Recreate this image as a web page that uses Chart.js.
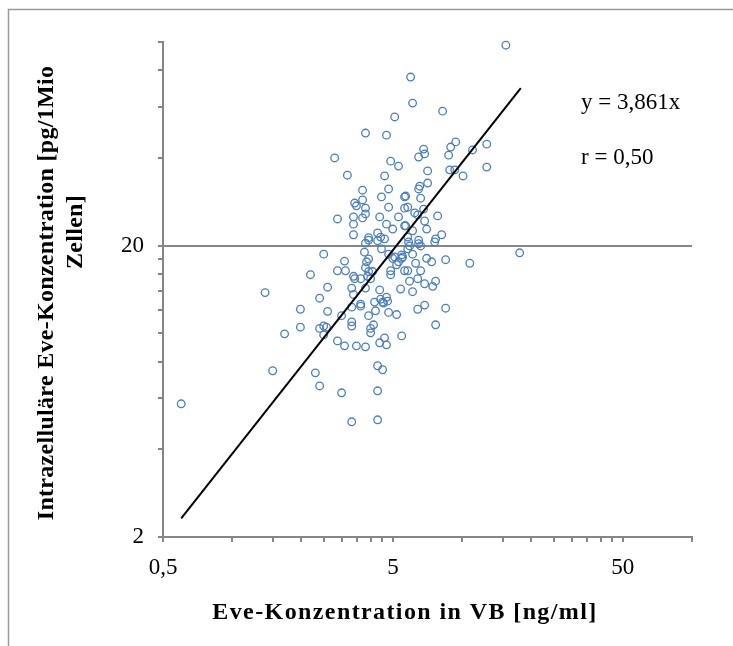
<!DOCTYPE html>
<html>
<head>
<meta charset="utf-8">
<script src="https://cdn.jsdelivr.net/npm/chart.js@4.4.1/dist/chart.umd.min.js"></script>
<style>
    html, body { margin: 0; padding: 0; background: #fff; }
    canvas { display: block; }
</style>
</head>
<body>
<canvas id="scatterChart" width="733" height="646"></canvas>
<script>
// Eve-Konzentration im Vollblut [ng/ml] (x) und intrazellulär [pg/1Mio Zellen] (y)
var eveBlood = [
    1.39, 1.69, 1.98, 1.98, 1.50, 0.60, 5.09, 3.80, 4.69, 2.79,
    4.89, 5.29, 3.17, 4.60, 3.69, 4.79, 4.46, 3.69, 3.41, 3.47,
    3.80, 4.79, 5.62, 2.87, 3.37, 3.80, 3.69, 4.38, 5.29, 4.69,
    4.99, 3.37, 5.62, 4.29, 3.92, 4.42, 4.60, 15.5, 5.97, 6.09,
    8.23, 6.80, 6.47, 6.87, 8.92, 9.38, 8.74, 11.1, 12.8, 7.08,
    8.83, 9.29, 10.1, 12.8, 6.47, 6.54, 7.08, 6.60, 5.68, 5.62,
    5.80, 6.80, 6.22, 6.41, 7.83, 5.68, 6.87, 7.01, 6.09, 8.15,
    7.67, 5.80, 6.47, 2.50, 3.08, 2.87, 3.11, 2.19, 2.60, 2.40,
    2.60, 2.40, 2.50, 2.57, 2.50, 2.87, 3.08, 3.47, 3.80, 2.99,
    3.31, 3.31, 4.00, 4.00, 4.12, 3.92, 4.20, 4.79, 5.19, 5.46,
    4.60, 4.38, 4.69, 4.29, 4.51, 2.30, 2.40, 2.99, 4.29, 3.31,
    4.29, 3.37, 3.80, 3.92, 3.76, 4.29, 4.46, 4.79, 5.09, 4.99,
    5.19, 5.29, 5.46, 5.62, 5.46, 3.84, 3.92, 3.80, 3.92, 4.08,
    4.00, 3.88, 3.37, 3.41, 3.62, 3.80, 3.31, 3.37, 3.62, 3.62,
    3.31, 4.89, 4.89, 5.40, 4.38, 4.42, 4.51, 4.69, 4.74, 4.55,
    4.16, 17.8, 10.8, 8.48, 7.37, 7.01, 7.60, 6.47, 6.60, 5.85,
    5.91, 5.80, 6.09, 5.51, 6.28, 5.80, 6.60, 5.91, 6.41, 6.87,
    7.67, 7.45, 6.09, 6.87, 6.41, 8.48, 7.67
];
var eveCells = [
    13.8, 9.96, 12.1, 10.5, 7.44, 5.73, 55.3, 48.7, 47.9, 40.0,
    39.0, 37.5, 34.9, 34.7, 31.0, 31.3, 29.4, 28.7, 28.0, 27.4,
    26.9, 27.1, 29.4, 24.7, 25.1, 25.7, 24.9, 25.1, 25.1, 23.7,
    22.8, 23.7, 23.4, 22.1, 21.3, 21.4, 21.1, 97.5, 75.8, 61.7,
    57.9, 42.9, 40.3, 41.3, 43.6, 45.4, 40.9, 42.6, 44.6, 36.1,
    36.4, 36.4, 34.7, 37.2, 31.3, 32.0, 32.8, 29.1, 29.6, 26.9,
    27.1, 26.7, 25.9, 25.5, 25.3, 23.4, 24.3, 22.8, 22.5, 21.8,
    21.1, 21.4, 20.9, 18.7, 17.7, 16.4, 16.4, 15.9, 14.4, 13.2,
    11.9, 10.4, 10.6, 10.5, 9.88, 9.42, 9.06, 9.06, 8.99, 11.5,
    10.95, 10.6, 10.04, 10.4, 10.7, 11.5, 11.95, 11.8, 11.6, 9.80,
    9.65, 9.28, 9.13, 7.74, 7.50, 7.32, 6.60, 6.25, 6.35, 4.97,
    5.05, 21.8, 20.4, 20.9, 19.0, 20.8, 19.5, 18.7, 18.3, 18.1,
    17.2, 17.6, 18.1, 16.4, 18.6, 17.6, 18.0, 16.8, 16.3, 16.3,
    15.4, 15.7, 15.7, 15.4, 15.4, 14.3, 14.3, 13.6, 12.6, 12.4,
    12.3, 16.4, 15.9, 14.2, 14.1, 13.1, 12.8, 13.3, 12.9, 12.7,
    12.8, 18.9, 17.4, 17.9, 17.6, 18.1, 20.6, 20.3, 19.95, 20.6,
    19.95, 19.5, 18.7, 18.3, 17.4, 16.4, 16.4, 15.1, 15.4, 14.8,
    15.1, 14.5, 13.9, 12.5, 12.1, 12.2, 10.7
];

// Regression through the origin: y = 3,861x
var slope = 3.861;
var lineFrom = 0.6;
var lineTo = 18;

// Axis ranges and ticks (log scales)
var xMin = 0.5, xMax = 100;
var yMin = 2, yMax = 100;
var xMajorTicks = [0.5, 5, 50];
var xMajorLabels = ["0,5", "5", "50"];
var xMinorTicks = [1, 1.5, 2, 2.5, 3, 3.5, 4, 4.5, 10, 15, 20, 25, 30, 35, 40, 45, 100];
var yMajorTicks = [2, 20];
var yMajorLabels = ["2", "20"];
var yMinorTicks = [4, 6, 8, 10, 12, 14, 16, 18, 40, 60, 80, 100];

var xTitle = "Eve-Konzentration in VB [ng/ml]";
var yTitle = ["Intrazelluläre Eve-Konzentration [pg/1Mio", "Zellen]"];
var equationText = "y = 3,861x";
var corrText = "r = 0,50";

var axisGray = "#868686";
var serif = "'Liberation Serif', 'DejaVu Serif', serif";

var points = eveBlood.map((x, i) => ({ x: x, y: eveCells[i] }));

function tickList(major, minor) {
    return major.concat(minor).sort((a, b) => a - b).map(v => ({ value: v }));
}

// Frame, axis titles and the equation text
var textPlugin = {
    id: "chartTexts",
    beforeDraw: function (chart) {
        var ctx = chart.ctx;
        ctx.save();
        ctx.fillStyle = "#fff";
        ctx.fillRect(0, 0, chart.width, chart.height);
        ctx.strokeStyle = "#9a9a9a";
        ctx.lineWidth = 1.5;
        ctx.beginPath();
        ctx.moveTo(8.5, chart.height);
        ctx.lineTo(8.5, 9.5);
        ctx.lineTo(chart.width, 9.5);
        ctx.stroke();
        ctx.restore();
    },
    afterDraw: function (chart) {
        var ctx = chart.ctx;
        ctx.save();
        ctx.fillStyle = "#000";
        ctx.textAlign = "center";
        ctx.textBaseline = "middle";
        ctx.font = "bold 24px " + serif;
        ctx.letterSpacing = "1.4px";
        ctx.fillText(xTitle, 405, 613);

        ctx.letterSpacing = "0.3px";
        ctx.save();
        ctx.translate(47, 293);
        ctx.rotate(-Math.PI / 2);
        ctx.fillText(yTitle[0], 0, 0);
        ctx.restore();
        ctx.save();
        ctx.translate(76, 232);
        ctx.rotate(-Math.PI / 2);
        ctx.fillText(yTitle[1], 0, 0);
        ctx.restore();

        ctx.letterSpacing = "0px";
        ctx.font = "23px " + serif;
        ctx.textAlign = "left";
        ctx.fillText(equationText, 581, 103);
        ctx.fillText(corrText, 581, 158);
        ctx.restore();
    }
};

var ctx = document.getElementById("scatterChart");
var myScatterChart = new Chart(ctx, {
    type: "scatter",
    data: {
        datasets: [
            {
                label: "Regression",
                type: "line",
                data: [
                    { x: lineFrom, y: slope * lineFrom },
                    { x: lineTo, y: slope * lineTo }
                ],
                borderColor: "#000",
                borderWidth: 2,
                pointRadius: 0,
                fill: false,
                clip: false
            },
            {
                label: "Eve",
                data: points,
                pointStyle: "circle",
                pointRadius: 3.8,
                borderWidth: 1.3,
                borderColor: "#4a7ebb",
                backgroundColor: "rgba(0,0,0,0)",
                clip: false
            }
        ]
    },
    options: {
        responsive: false,
        animation: false,
        devicePixelRatio: 1,
        layout: { padding: { top: 42, right: 41, bottom: 0, left: 0 } },
        scales: {
            x: {
                type: "logarithmic",
                min: xMin,
                max: xMax,
                afterBuildTicks: function (scale) { scale.ticks = tickList(xMajorTicks, xMinorTicks); },
                afterFit: function (scale) { scale.height = 109; },
                ticks: {
                    autoSkip: false,
                    maxRotation: 0,
                    padding: 12,
                    color: "#000",
                    font: { family: serif, size: 23 },
                    callback: function (value) {
                        var i = xMajorTicks.indexOf(value);
                        return i >= 0 ? xMajorLabels[i] : "";
                    }
                },
                grid: { drawOnChartArea: false, tickLength: 5, tickColor: axisGray, lineWidth: 2 },
                border: { color: axisGray, width: 2 }
            },
            y: {
                type: "logarithmic",
                min: yMin,
                max: yMax,
                afterBuildTicks: function (scale) { scale.ticks = tickList(yMajorTicks, yMinorTicks); },
                afterFit: function (scale) { scale.width = 163; },
                ticks: {
                    autoSkip: false,
                    padding: 14,
                    color: "#000",
                    font: { family: serif, size: 23 },
                    callback: function (value) {
                        var i = yMajorTicks.indexOf(value);
                        return i >= 0 ? yMajorLabels[i] : "";
                    }
                },
                grid: {
                    // only the 20 line runs across the plot
                    color: c => (c.tick && c.tick.value === 20 ? axisGray : "rgba(0,0,0,0)"),
                    tickColor: axisGray,
                    tickLength: 5,
                    lineWidth: 2
                },
                border: { color: axisGray, width: 2 }
            }
        },
        plugins: {
            legend: { display: false },
            tooltip: { enabled: false }
        }
    },
    plugins: [textPlugin]
});
</script>
</body>
</html>
